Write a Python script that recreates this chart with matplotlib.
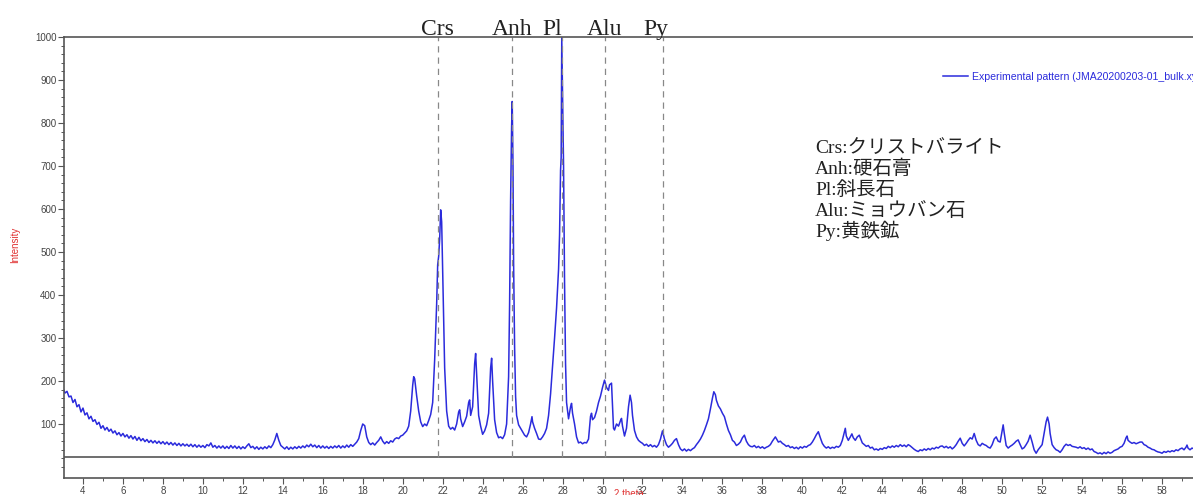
import matplotlib
matplotlib.use("Agg")
import matplotlib.pyplot as plt
from matplotlib.ticker import MultipleLocator, FixedLocator

# -----------------------
# Data
# -----------------------
two_theta = [
    3.0, 3.1, 3.2, 3.3, 3.4, 3.5, 3.6, 3.7, 3.8, 3.9,
    4.0, 4.1, 4.2, 4.3, 4.4, 4.5, 4.6, 4.7, 4.8, 4.9,
    5.0, 5.1, 5.2, 5.3, 5.4, 5.5, 5.6, 5.7, 5.8, 5.9,
    6.0, 6.1, 6.2, 6.3, 6.4, 6.5, 6.6, 6.7, 6.8, 6.9,
    7.0, 7.1, 7.2, 7.3, 7.4, 7.5, 7.6, 7.7, 7.8, 7.9,
    8.0, 8.1, 8.2, 8.3, 8.4, 8.5, 8.6, 8.7, 8.8, 8.9,
    9.0, 9.1, 9.2, 9.3, 9.4, 9.5, 9.6, 9.7, 9.8, 9.9,
    10.0, 10.1, 10.2, 10.3, 10.4, 10.5, 10.6, 10.7, 10.8, 10.9,
    11.0, 11.1, 11.2, 11.3, 11.4, 11.5, 11.6, 11.7, 11.8, 11.9,
    12.0, 12.1, 12.2, 12.3, 12.4, 12.5, 12.6, 12.7, 12.8, 12.9,
    13.0, 13.1, 13.2, 13.3, 13.4, 13.5, 13.6, 13.7, 13.8, 13.9,
    14.0, 14.1, 14.2, 14.3, 14.4, 14.5, 14.6, 14.7, 14.8, 14.9,
    15.0, 15.1, 15.2, 15.3, 15.4, 15.5, 15.6, 15.7, 15.8, 15.9,
    16.0, 16.1, 16.2, 16.3, 16.4, 16.5, 16.6, 16.7, 16.8, 16.9,
    17.0, 17.1, 17.2, 17.3, 17.4, 17.5, 17.6, 17.7, 17.8, 17.9,
    18.0, 18.1, 18.2, 18.3, 18.4, 18.5, 18.6, 18.7, 18.8, 18.9,
    19.0, 19.1, 19.2, 19.3, 19.4, 19.5, 19.6, 19.7, 19.8, 19.9,
    20.0, 20.1, 20.2, 20.3, 20.4, 20.5, 20.55, 20.6, 20.7, 20.8, 20.9,
    21.0, 21.1, 21.2, 21.3, 21.4, 21.5, 21.6, 21.7, 21.75, 21.8, 21.85, 21.9, 21.95,
    22.0, 22.05, 22.1, 22.2, 22.3, 22.4, 22.5, 22.6, 22.7, 22.8, 22.85, 22.9,
    23.0, 23.1, 23.2, 23.3, 23.35, 23.4, 23.5, 23.6, 23.65, 23.7, 23.8, 23.9,
    24.0, 24.1, 24.2, 24.3, 24.4, 24.45, 24.5, 24.6, 24.7, 24.8, 24.9,
    25.0, 25.1, 25.2, 25.3, 25.35, 25.4, 25.45, 25.48, 25.52, 25.55, 25.6, 25.65, 25.7, 25.8, 25.9,
    26.0, 26.1, 26.2, 26.3, 26.4, 26.47, 26.5, 26.6, 26.7, 26.8, 26.9,
    27.0, 27.1, 27.2, 27.3, 27.4, 27.5, 27.6, 27.7, 27.8, 27.85, 27.9, 27.93, 27.96,
    28.0, 28.05, 28.1, 28.15, 28.2, 28.3, 28.4, 28.45, 28.5, 28.6, 28.7, 28.8, 28.9,
    29.0, 29.1, 29.2, 29.3, 29.4, 29.45, 29.5, 29.6, 29.7, 29.8, 29.9,
    30.0, 30.1, 30.2, 30.3, 30.35, 30.45, 30.55, 30.6, 30.7, 30.8, 30.9, 30.95,
    31.0, 31.1, 31.2, 31.3, 31.38, 31.45, 31.5, 31.6, 31.7, 31.8, 31.9,
    32.0, 32.1, 32.2, 32.3, 32.4, 32.5, 32.6, 32.7, 32.8, 32.9,
    33.0, 33.1, 33.2, 33.3, 33.4, 33.5, 33.6, 33.7, 33.8, 33.9,
    34.0, 34.1, 34.2, 34.3, 34.4, 34.5, 34.6, 34.7, 34.8, 34.9,
    35.0, 35.1, 35.2, 35.3, 35.4, 35.5, 35.57, 35.65, 35.7, 35.8, 35.9,
    36.0, 36.1, 36.2, 36.3, 36.4, 36.5, 36.6, 36.7, 36.8, 36.9,
    37.0, 37.1, 37.2, 37.3, 37.4, 37.5, 37.6, 37.7, 37.8, 37.9,
    38.0, 38.1, 38.2, 38.3, 38.4, 38.5, 38.65, 38.8, 38.9,
    39.0, 39.1, 39.2, 39.3, 39.4, 39.5, 39.6, 39.7, 39.8, 39.9,
    40.0, 40.1, 40.2, 40.3, 40.4, 40.5, 40.6, 40.7, 40.8, 40.9,
    41.0, 41.1, 41.2, 41.3, 41.4, 41.5, 41.6, 41.7, 41.8, 41.9,
    42.0, 42.1, 42.15, 42.2, 42.3, 42.4, 42.48, 42.55, 42.65, 42.75, 42.85, 42.95,
    43.0, 43.1, 43.2, 43.3, 43.4, 43.5, 43.6, 43.7, 43.8, 43.9,
    44.0, 44.1, 44.2, 44.3, 44.4, 44.5, 44.6, 44.7, 44.8, 44.9,
    45.0, 45.1, 45.2, 45.3, 45.4, 45.5, 45.6, 45.7, 45.8, 45.9,
    46.0, 46.1, 46.2, 46.3, 46.4, 46.5, 46.6, 46.7, 46.8, 46.9,
    47.0, 47.1, 47.2, 47.3, 47.4, 47.5, 47.6, 47.7, 47.8, 47.9,
    48.0, 48.1, 48.2, 48.3, 48.4, 48.5, 48.6, 48.7, 48.8, 48.9,
    49.0, 49.1, 49.2, 49.3, 49.4, 49.5, 49.6, 49.7, 49.8, 49.9,
    50.0, 50.05, 50.1, 50.2, 50.3, 50.4, 50.5, 50.6, 50.7, 50.8, 50.9,
    51.0, 51.1, 51.2, 51.3, 51.4, 51.5, 51.6, 51.7, 51.8, 51.9,
    52.0, 52.1, 52.2, 52.27, 52.35, 52.4, 52.5, 52.6, 52.7, 52.8, 52.9,
    53.0, 53.1, 53.2, 53.3, 53.4, 53.5, 53.6, 53.7, 53.8, 53.9,
    54.0, 54.1, 54.2, 54.3, 54.4, 54.5, 54.6, 54.7, 54.8, 54.9,
    55.0, 55.1, 55.2, 55.3, 55.4, 55.5, 55.6, 55.7, 55.8, 55.9,
    56.0, 56.1, 56.2, 56.25, 56.3, 56.4, 56.5, 56.6, 56.7, 56.8, 56.9,
    57.0, 57.1, 57.2, 57.3, 57.4, 57.5, 57.6, 57.7, 57.8, 57.9,
    58.0, 58.1, 58.2, 58.3, 58.4, 58.5, 58.6, 58.7, 58.8, 58.9,
    59.0, 59.1, 59.2, 59.25, 59.3, 59.4, 59.5, 59.6,
]

intensity = [
    183, 172, 176, 163, 165, 150, 157, 140, 145, 128,
    137, 121, 126, 112, 118, 106, 110, 99, 104, 90,
    96, 86, 92, 83, 88, 79, 84, 75, 80, 72,
    78, 70, 75, 67, 73, 65, 71, 62, 69, 61,
    66, 59, 64, 57, 62, 56, 61, 55, 60, 54,
    59, 53, 58, 52, 57, 51, 56, 50, 55, 49,
    54, 49, 53, 48, 53, 47, 52, 46, 51, 46,
    50, 45, 52, 49, 56, 46, 50, 44, 49, 44,
    49, 43, 48, 43, 50, 44, 49, 43, 48, 42,
    47, 43, 49, 54, 45, 48, 42, 47, 41, 46,
    42, 47, 43, 49, 45, 52, 63, 78, 62, 50,
    46, 42, 47, 41, 46, 42, 47, 43, 48, 44,
    49, 45, 51, 47, 53, 47, 51, 45, 50, 44,
    49, 44, 48, 43, 48, 44, 49, 45, 50, 44,
    49, 45, 51, 46, 52, 48, 53, 58, 66, 85,
    100, 96, 70, 57, 52, 56, 51, 57, 62, 70,
    60, 54, 59, 55, 61, 58, 65, 68, 66, 72,
    74, 79, 84, 95, 130, 190, 210, 205, 165, 130, 105,
    94, 100, 96, 108, 122, 150, 250, 380, 470, 490, 530, 598, 570,
    460, 340, 230, 130, 95, 88, 92, 86, 100, 128, 133, 112,
    94, 105, 118, 150, 156, 120, 140, 240, 264, 215, 120, 95,
    76, 84, 98, 125, 230, 253, 200, 110, 80, 68, 70,
    66, 75, 100, 210, 380, 620, 790, 850, 700, 474, 280, 164, 120, 98, 90,
    82, 74, 70, 80, 100, 117, 105, 90, 78, 65, 64,
    70, 78, 90, 120, 170, 235, 300, 370, 460, 540, 690, 720, 998,
    870, 700, 430, 240, 150, 112, 140, 148, 125, 100, 70, 56, 58,
    54, 57, 56, 65, 118, 125, 110, 115, 130, 150, 165,
    185, 202, 185, 178, 191, 195, 90, 86, 100, 95, 108, 113,
    95, 72, 90, 140, 167, 150, 120, 85, 70, 62, 58,
    55, 50, 53, 48, 52, 47, 50, 46, 52, 65,
    84, 65, 52, 46, 50, 55, 62, 66, 52, 42,
    38, 42, 37, 41, 38, 42, 45, 52, 58, 65,
    74, 85, 98, 112, 135, 160, 175, 168, 155, 142, 135,
    125, 117, 100, 85, 75, 62, 58, 50, 53, 58,
    68, 74, 60, 52, 48, 47, 50, 45, 48, 44,
    47, 43, 46, 48, 52, 60, 70, 58, 60,
    55, 52, 48, 50, 45, 47, 43, 46, 42, 47,
    44, 48, 46, 50, 52, 58, 66, 75, 82, 68,
    55, 48, 44, 47, 43, 46, 44, 48, 46, 50,
    62, 80, 90, 72, 62, 70, 77, 68, 62, 70, 74, 62,
    56, 52, 48, 50, 44, 46, 40, 42, 39, 43,
    41, 45, 43, 48, 45, 49, 46, 50, 47, 52,
    48, 51, 47, 52, 49, 45, 41, 38, 36, 40,
    38, 42, 39, 43, 40, 44, 42, 46, 44, 48,
    49, 45, 48, 44, 47, 42, 46, 52, 60, 67,
    55, 49, 55, 62, 68, 65, 78, 62, 52, 49,
    55, 52, 50, 46, 44, 52, 65, 70, 60, 58,
    85, 98, 80, 50, 44, 48, 51, 55, 60, 63, 52,
    42, 45, 52, 60, 74, 58, 40, 32, 40, 46,
    52, 78, 105, 116, 100, 78, 52, 45, 40, 38, 34,
    40, 48, 53, 50, 52, 48, 47, 46, 44, 47,
    43, 45, 41, 44, 40, 42, 36, 34, 31, 33,
    30, 34, 31, 35, 32, 34, 38, 40, 42, 46,
    48, 55, 68, 72, 62, 58, 55, 57, 54, 56, 58,
    58, 52, 50, 46, 44, 41, 40, 37, 35, 34,
    32, 36, 34, 37, 35, 38, 36, 40, 38, 42,
    44, 40, 46, 51, 44, 40, 44, 42,
]

baseline_level = 23
phase_names = ["Crs", "Anh", "Pl", "Alu", "Py"]
phase_positions = [21.75, 25.45, 27.95, 30.1, 33.05]
phase_label_shift = [0, 0, -9, 0, -8]  # pixels
phase_notes = ["Crs:クリストバライト", "Anh:硬石膏", "Pl:斜長石",
               "Alu:ミョウバン石", "Py:黄鉄鉱"]

W, H = 1193, 495
fig = plt.figure(figsize=(W / 100, H / 100), dpi=100)
ax = fig.add_axes([64 / W, 17 / H, 1 - 64 / W, 441 / H])

ax.plot(two_theta, intensity, color="#2b2bdc", lw=1.1,
        label="Experimental pattern (JMA20200203-01_bulk.xy)")
ax.axhline(baseline_level, color="#555555", lw=1.2)
ax.vlines(phase_positions, baseline_level, 1000, colors="#888888",
          lw=0.9, linestyles=(0, (5, 4)))

ax.set_xlim(3.05, 59.55)
ax.set_ylim(-25.6, 1000)

ax.xaxis.set_major_locator(MultipleLocator(2))
ax.xaxis.set_minor_locator(MultipleLocator(1))
ax.yaxis.set_major_locator(FixedLocator(range(100, 1001, 100)))
ax.yaxis.set_minor_locator(FixedLocator(range(0, 1001, 20)))
ax.tick_params(which="major", length=4, width=0.8, color="#555555",
               labelsize=7, labelcolor="#444444", pad=1.5)
ax.tick_params(which="minor", length=2, width=0.7, color="#555555")

for side in ["left", "bottom", "top"]:
    ax.spines[side].set_color("#555555")
    ax.spines[side].set_linewidth(1.2)
ax.spines["right"].set_visible(False)

ax.set_xlabel("2 theta", color="#e03030", fontsize=7,
              family="Liberation Sans")
ax.xaxis.set_label_coords(0.5, -0.025)
ax.set_ylabel("Intensity", color="#e03030", fontsize=7,
              family="Liberation Sans")
ax.yaxis.set_label_coords(-0.039, 0.528)
for lbl in ax.get_xticklabels() + ax.get_yticklabels():
    lbl.set_family("Liberation Sans")

# phase labels above the frame
for name, pos, shift in zip(phase_names, phase_positions, phase_label_shift):
    ax.annotate(name, xy=(pos, 1), xycoords=("data", "axes fraction"),
                xytext=(shift, 2), textcoords="offset pixels",
                ha="center", va="baseline", fontsize=17,
                family=["Liberation Serif", "Noto Sans CJK JP"],
                color="#222222", annotation_clip=False)

# phase names block
for i, note in enumerate(phase_notes):
    fig.text(815 / W, 1 - (153 + 21 * i) / H, note, ha="left",
             va="baseline", fontsize=14, color="#222222",
             family=["Liberation Serif", "Noto Sans CJK JP"])

leg = ax.legend(loc="center left", bbox_to_anchor=(943 / W, 1 - 77 / H),
                bbox_transform=fig.transFigure, frameon=False,
                handlelength=2.4, handletextpad=0.3,
                borderpad=0, borderaxespad=0, labelcolor="#2b2bdc",
                prop={"family": "Liberation Sans", "size": 7.6})

fig.savefig("out.png", dpi=100)
